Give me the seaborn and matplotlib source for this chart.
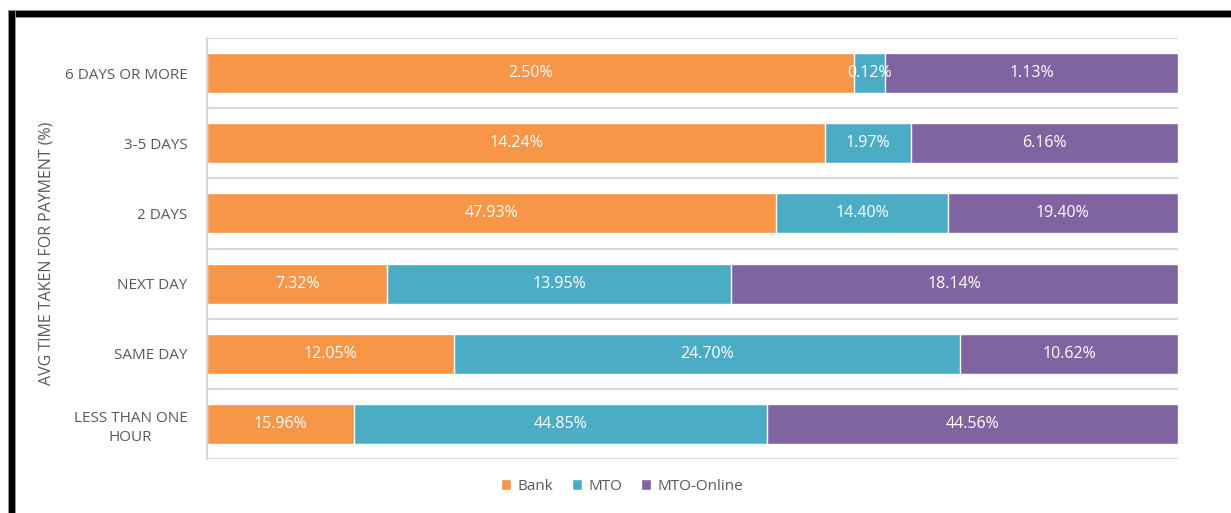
import matplotlib
matplotlib.use("Agg")
import matplotlib.pyplot as plt
import seaborn as sns
import numpy as np
import pandas as pd
from matplotlib.patches import Rectangle

categories = ["6 DAYS OR MORE", "3-5 DAYS", "2 DAYS", "NEXT DAY", "SAME DAY", "LESS THAN ONE\nHOUR"]
bank = [2.50, 14.24, 47.93, 7.32, 12.05, 15.96]
mto = [0.12, 1.97, 14.40, 13.95, 24.70, 44.85]
mto_online = [1.13, 6.16, 19.40, 18.14, 10.62, 44.56]
series_names = ["Bank", "MTO", "MTO-Online"]
colors = ["#F79646", "#4BACC6", "#8064A2"]

sns.set_theme(style="white")
plt.rcParams['font.family'] = ['Open Sans', 'DejaVu Sans']

b = np.array(bank); m = np.array(mto); o = np.array(mto_online)
tot = b + m + o
pb = b / tot * 100
pm = m / tot * 100
po = o / tot * 100
c1 = pb
c2 = pb + pm
c3 = pb + pm + po

df = pd.DataFrame({"cat": categories, "c1": c1, "c2": c2, "c3": c3})

fig = plt.figure(figsize=(12.31, 5.13), dpi=100)
ax = fig.add_axes([207/1231, 1-459/513, (1178-207)/1231, (459-38)/513])

bw = 0.57
sns.barplot(data=df, x="c3", y="cat", orient="h", color=colors[2], width=bw, ax=ax, saturation=1, label=series_names[2])
sns.barplot(data=df, x="c2", y="cat", orient="h", color=colors[1], width=bw, ax=ax, saturation=1, label=series_names[1])
sns.barplot(data=df, x="c1", y="cat", orient="h", color=colors[0], width=bw, ax=ax, saturation=1, label=series_names[0])

for i in range(len(categories)):
    starts = [0, c1[i], c2[i]]
    ends = [c1[i], c2[i], c3[i]]
    vals = [bank[i], mto[i], mto_online[i]]
    for s, e, v in zip(starts, ends, vals):
        ax.text((s + e) / 2, i, f"{v:.2f}%", ha="center", va="center",
                color="white", fontsize=11.5)

ax.set_xlim(0, 100)
ax.set_ylim(len(categories) - 0.5, -0.5)
for yv in np.arange(-0.5, len(categories), 1.0):
    ax.axhline(yv, color="#D9D9D9", lw=1.5, zorder=0)
for sp in ["top", "right", "bottom"]:
    ax.spines[sp].set_visible(False)
ax.spines["left"].set_color("#D9D9D9")
ax.spines["left"].set_linewidth(1.5)
ax.set_xticks([])
ax.set_xlabel("")
ax.set_ylabel("")
ax.tick_params(axis="y", length=0, pad=14)
ax.set_yticks(range(len(categories)))
ax.set_yticklabels(categories, fontsize=11, color="#595959", linespacing=1.35, ha="right")
for t in ax.get_yticklabels():
    t.set_multialignment("center")

fig.text(47/1231, 1-253/513, "AVG TIME TAKEN FOR PAYMENT (%)", rotation=90,
         ha="center", va="center", fontsize=11.5, color="#595959")

handles, labels = ax.get_legend_handles_labels()
order = [labels.index(n) for n in series_names]
leg = fig.legend([handles[k] for k in order], [labels[k] for k in order],
                 loc="center", bbox_to_anchor=(622/1231, 1-486/513), ncol=3,
                 frameon=False, fontsize=11, handlelength=0.7, handleheight=0.7,
                 handletextpad=0.4, columnspacing=1.2)
for t in leg.get_texts():
    t.set_color("#595959")
if ax.get_legend() is not None:
    ax.get_legend().remove()

# black frame
fig.add_artist(Rectangle((8/1231, 1-17/513), 1 - 8/1231, 7/513, transform=fig.transFigure,
                         facecolor="black", edgecolor="#9a9a9a", lw=0.6))
fig.add_artist(Rectangle((8/1231, 0), 7/1231, 1-10/513, transform=fig.transFigure,
                         facecolor="black", edgecolor="#9a9a9a", lw=0.6))

fig.savefig("out.png", dpi=100, facecolor="white")
